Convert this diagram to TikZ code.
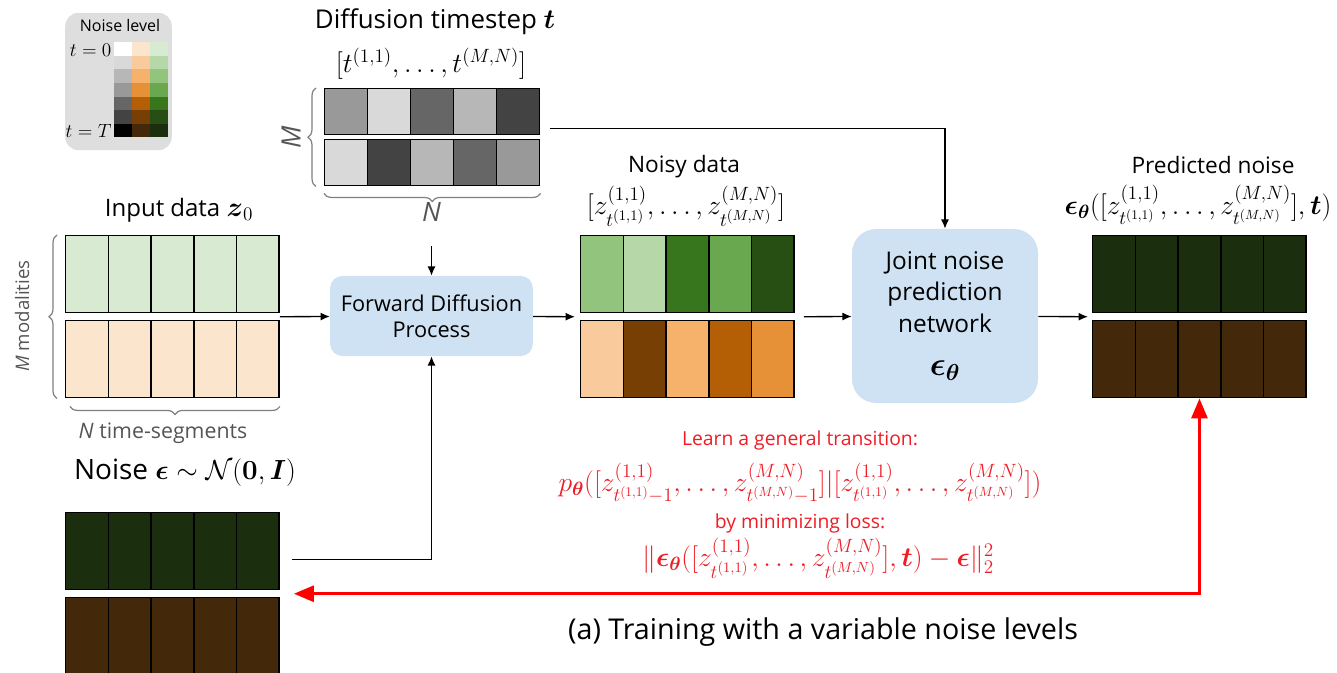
\documentclass[tikz,border=0pt]{standalone}
\usepackage{amsmath}
\usepackage[no-math]{fontspec}
\setmainfont{Open Sans}
\usetikzlibrary{arrows.meta, positioning, calc, decorations.pathreplacing}

\definecolor{gr1}{HTML}{D9EAD3}
\definecolor{gr2}{HTML}{B6D7A8}
\definecolor{gr3}{HTML}{93C47D}
\definecolor{gr4}{HTML}{6AA84F}
\definecolor{gr5}{HTML}{38761D}
\definecolor{gr6}{HTML}{274E13}
\definecolor{gr7}{HTML}{1B2F0F}
\definecolor{or1}{HTML}{FCE5CD}
\definecolor{or2}{HTML}{F9CB9C}
\definecolor{or3}{HTML}{F6B26B}
\definecolor{or4}{HTML}{E69138}
\definecolor{or5}{HTML}{B45F06}
\definecolor{or6}{HTML}{783F04}
\definecolor{or7}{HTML}{44280A}
\definecolor{gy1}{HTML}{FFFFFF}
\definecolor{gy2}{HTML}{D9D9D9}
\definecolor{gy3}{HTML}{B7B7B7}
\definecolor{gy4}{HTML}{999999}
\definecolor{gy5}{HTML}{666666}
\definecolor{gy6}{HTML}{434343}
\definecolor{gy7}{HTML}{000000}
\definecolor{procblue}{HTML}{CFE2F3}
\definecolor{legendgray}{HTML}{DEDEDE}
\definecolor{sidegray}{HTML}{555555}
\definecolor{lossred}{HTML}{EE1C25}

\begin{document}
\begin{tikzpicture}[
		x=0.75pt, y=-0.75pt,
		>=Stealth,
		cell/.style={draw=black, line width=1.1pt, minimum width=32pt, minimum height=57.75pt, anchor=north west, inner sep=0pt},
		tcell/.style={cell, minimum width=32.25pt, minimum height=34.5pt},
		lvl/.style={minimum width=13.5pt, minimum height=10.2pt, anchor=north west, inner sep=0pt},
		proc/.style={rectangle, fill=procblue, align=center},
		title/.style={font=\fontsize{17}{20}\selectfont},
		side/.style={text=sidegray, font=\fontsize{14}{16}\selectfont},
		brace/.style={draw=gray, line width=0.9pt, decorate, decoration={brace, amplitude=6pt}},
		flow/.style={->, line width=1pt, >={Latex[length=7pt, width=6pt]}},
		lossarrow/.style={<->, draw=red, line width=2.3pt, >={Triangle[length=15pt, width=12pt]}},
		redtext/.style={text=lossred, inner sep=0pt, font=\fontsize{14.5}{17}\selectfont}
	]
	\useasboundingbox (0,0) rectangle (1337,673);

	% Legend
	\node[rectangle, rounded corners=10pt, fill=legendgray, minimum width=80pt, minimum height=103pt] (legend) at (118.5,81.5) {};
	\node[font=\fontsize{12}{14}\selectfont] (legendtitle) at (120,26) {Noise level};
	\foreach \r in {1,...,7} {
		\node[lvl, fill=gy\r] (lv-\r-1) at (114,{42+(\r-1)*13.6}) {};
		\node[lvl, fill=or\r] (lv-\r-2) at (132,{42+(\r-1)*13.6}) {};
		\node[lvl, fill=gr\r] (lv-\r-3) at (150,{42+(\r-1)*13.6}) {};
	}
	\node[anchor=east, font=\fontsize{14}{16}\selectfont, inner sep=1pt] (tzero) at (113,50) {$t=0$};
	\node[anchor=east, font=\fontsize{14}{16}\selectfont, inner sep=1pt] (tbig) at (113,131) {$t=T$};

	% Diffusion timesteps
	\foreach \c/\top/\bot in {1/gy4/gy2, 2/gy2/gy6, 3/gy5/gy3, 4/gy3/gy5, 5/gy6/gy4} {
		\node[tcell, fill=\top] (ts-1-\c) at ({324+(\c-1)*43},88) {};
		\node[tcell, fill=\bot] (ts-2-\c) at ({324+(\c-1)*43},139) {};
	}
	\node[title, font=\fontsize{19.4}{22}\selectfont] (tstitle) at (435,22) {Diffusion timestep $\boldsymbol{t}$};
	\node[font=\fontsize{22}{24}\selectfont] (tsvec) at (431,64) {$[t^{(1,1)},\ldots,t^{(M,N)}]$};
	\draw[brace] ($(ts-2-1.south west)+(-8,0)$) -- ($(ts-1-1.north west)+(-8,0)$);
	\draw[brace] ($(ts-2-5.south east)+(0,7)$) -- ($(ts-2-1.south west)+(0,7)$);
	\node[side, rotate=90, font=\fontsize{20}{22}\selectfont] (tsM) at (291,137) {\textit{M}};
	\node[side, font=\fontsize{20}{22}\selectfont] (tsN) at (431.5,212) {\textit{N}};

	% Input data
	\foreach \c in {1,...,5} {
		\node[cell, fill=gr1] (in-1-\c) at ({65+(\c-1)*42.7},235) {};
		\node[cell, fill=or1] (in-2-\c) at ({65+(\c-1)*42.7},320) {};
	}
	\node[title, font=\fontsize{18}{20}\selectfont] (intitle) at (179,210) {Input data\ {\fontsize{21}{22}\selectfont$\boldsymbol{z}_0$}};
	\draw[brace] ($(in-2-1.south west)+(-8,0)$) -- ($(in-1-1.north west)+(-8,0)$);
	\draw[brace] ($(in-2-5.south east)+(0,8)$) -- ($(in-2-1.south west)+(5,8)$);
	\node[side, rotate=90] (inM) at (22,316) {\textit{M} modalities};
	\node[side, font=\fontsize{16}{18}\selectfont] (inN) at (163,433) {\textit{N} time-segments};

	% Noise
	\foreach \c in {1,...,5} {
		\node[cell, fill=gr7] (no-1-\c) at ({65+(\c-1)*42.7},512) {};
		\node[cell, fill=or7] (no-2-\c) at ({65+(\c-1)*42.7},597) {};
	}
	\node[title, font=\fontsize{21}{24}\selectfont] (notitle) at (185,473) {Noise $\boldsymbol{\epsilon}\sim\mathcal{N}(\mathbf{0},\boldsymbol{I})$};

	% Forward diffusion
	\node[proc, rounded corners=9pt, minimum width=152pt, minimum height=60pt, font=\fontsize{16.3}{19.5}\selectfont] (fwd) at (431.5,316) {Forward Diffusion\\Process};

	% Noisy data
	\foreach \c/\top/\bot in {1/gr3/or2, 2/gr2/or6, 3/gr5/or3, 4/gr4/or5, 5/gr6/or4} {
		\node[cell, fill=\top] (ny-1-\c) at ({580+(\c-1)*42.7},235) {};
		\node[cell, fill=\bot] (ny-2-\c) at ({580+(\c-1)*42.7},320) {};
	}
	\node[title] (nytitle) at (684,167) {Noisy data};
	\node[font=\fontsize{22.5}{24}\selectfont] (nyvec) at (686,206) {$[z^{(1,1)}_{t^{(1,1)}},\ldots,z^{(M,N)}_{t^{(M,N)}}]$};

	% Network
	\node[proc, rounded corners=18pt, minimum width=139.5pt, minimum height=130.5pt, font=\fontsize{18.3}{23.5}\selectfont] (net) at (945,316)
		{Joint noise\\prediction\\network\\[9pt]{\fontsize{26}{28}\selectfont$\boldsymbol{\epsilon_\theta}$}};

	% Predicted noise
	\foreach \c in {1,...,5} {
		\node[cell, fill=gr7] (pr-1-\c) at ({1092+(\c-1)*42.7},235) {};
		\node[cell, fill=or7] (pr-2-\c) at ({1092+(\c-1)*42.7},320) {};
	}
	\node[title] (prtitle) at (1213,165) {Predicted noise};
	\node[font=\fontsize{19.5}{22}\selectfont, inner sep=1pt] (prvec) at (1198,205) {$\boldsymbol{\epsilon_\theta}([z^{(1,1)}_{t^{(1,1)}},\ldots,z^{(M,N)}_{t^{(M,N)}}],\boldsymbol{t})$};

	% Loss text
	\node[redtext] (learn) at (800,440) {Learn a general transition:};
	\node[redtext, font=\fontsize{20.5}{22}\selectfont] (trans) at (800,483) {$p_{\boldsymbol{\theta}}([z^{(1,1)}_{t^{(1,1)}-1},\ldots,z^{(M,N)}_{t^{(M,N)}-1}]|[z^{(1,1)}_{t^{(1,1)}},\ldots,z^{(M,N)}_{t^{(M,N)}}])$};
	\node[redtext] (minloss) at (800,523) {by minimizing loss:};
	\node[redtext, font=\fontsize{21}{22}\selectfont] (loss) at (818,558) {$\|\boldsymbol{\epsilon_\theta}([z^{(1,1)}_{t^{(1,1)}},\ldots,z^{(M,N)}_{t^{(M,N)}}],\boldsymbol{t})-\boldsymbol{\epsilon}\|_2^2$};

	\node[font=\fontsize{21.5}{24}\selectfont] (caption) at (823,632) {(a) Training with a variable noise levels};

	% Arrows
	\coordinate (ingap) at ($(in-1-5.south east)!0.5!(in-2-5.north east)$);
	\coordinate (nyin) at ($(ny-1-1.south west)!0.5!(ny-2-1.north west)+(-5,0)$);
	\coordinate (nyout) at ($(ny-1-5.south east)!0.5!(ny-2-5.north east)+(9,0)$);
	\coordinate (prin) at ($(pr-1-1.south west)!0.5!(pr-2-1.north west)+(-4,0)$);
	\coordinate (tsout) at ($(ts-1-5.south east)+(10,-7)$);
	\coordinate (noout) at ($(no-1-5.south east)+(12,-31)$);
	\coordinate (nogap) at ($(no-1-5.south east)!0.5!(no-2-5.north east)+(14,0)$);

	\draw[flow] (ingap) -- (fwd);
	\draw[flow] (fwd) -- (nyin);
	\draw[flow] (nyout) -- (net);
	\draw[flow] (net) -- (prin);
	\draw[flow] (tsout) -| (net);
	\draw[flow] ($(tsN.south)+(0,20)$) -- (fwd);
	\draw[flow] (noout) -| (fwd);

	\draw[lossarrow] (pr-2-3.south) |- (nogap);

\end{tikzpicture}
\end{document}
